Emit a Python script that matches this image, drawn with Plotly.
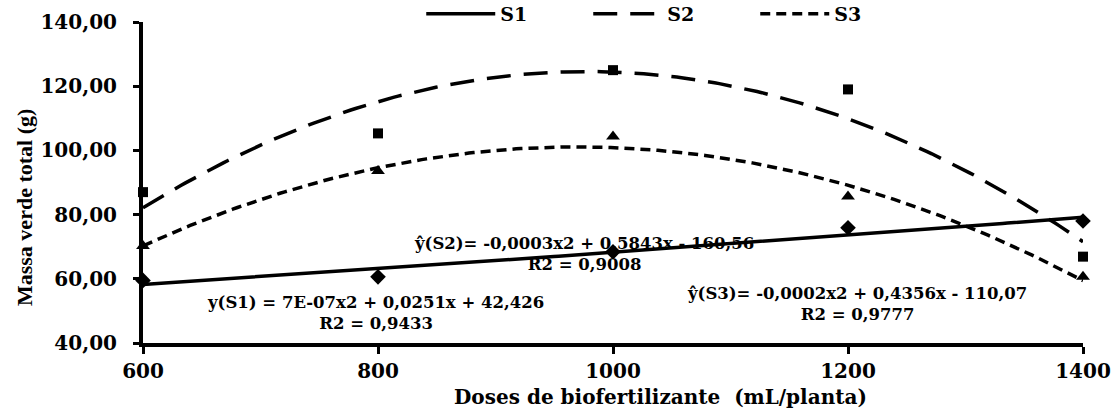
import numpy as np
import plotly.graph_objects as go

doses = [600, 800, 1000, 1200, 1400]
s1 = [59.5, 60.6, 68.4, 75.9, 78.0]
s2 = [87.0, 105.3, 125.0, 119.0, 66.9]
s3 = [70.2, 93.6, 104.3, 85.6, 60.6]

x_ticks = [600, 800, 1000, 1200, 1400]
x_ticklabels = ["600", "800", "1000", "1200", "1400"]
y_ticks = [40, 60, 80, 100, 120, 140]
y_ticklabels = ["40,00", "60,00", "80,00", "100,00", "120,00", "140,00"]

eq_texts = [
    "y(S1) = 7E-07x2 + 0,0251x + 42,426<br>R2 = 0,9433",
    "ŷ(S2)= -0,0003x2 + 0,5843x - 160,56<br>R2 = 0,9008",
    "ŷ(S3)= -0,0002x2 + 0,4356x - 110,07<br>R2 = 0,9777",
]
eq_pos = [(798, 49.3), (975, 67.7), (1208, 52.0)]

SERIF = "DejaVu Serif"
TIMES = "Liberation Serif"

fig = go.Figure()
xs = np.linspace(min(doses), max(doses), 200)
series = [("S1", s1, "solid", "diamond", 12),
          ("S2", s2, "24px,13px", "square", 10),
          ("S3", s3, "10px,6px", "triangle-up", 12)]
for name, ys, dash, sym, msz in series:
    coef = np.polyfit(doses, ys, 2)
    fig.add_trace(go.Scatter(x=xs, y=np.polyval(coef, xs), mode="lines",
                             name="<b>" + name + "</b>",
                             line=dict(color="black", width=3.5, dash=dash)))
for name, ys, dash, sym, msz in series:
    fig.add_trace(go.Scatter(x=doses, y=ys, mode="markers", showlegend=False,
                             cliponaxis=False,
                             marker=dict(symbol=sym, size=msz, color="black")))

for txt, (ex, ey) in zip(eq_texts, eq_pos):
    fig.add_annotation(x=ex, y=ey, xref="x", yref="y", text="<b>" + txt + "</b>",
                       showarrow=False, align="center",
                       font=dict(family=SERIF, size=16.5, color="black"))

fig.add_annotation(x=0.55, y=-0.168, xref="paper", yref="paper",
                   text="<b>Doses de biofertilizante  (mL/planta)</b>",
                   showarrow=False, xanchor="center", yanchor="middle",
                   font=dict(family=SERIF, size=20, color="black"))
fig.add_annotation(x=-0.1255, y=0.4206, xref="paper", yref="paper",
                   text="<b>Massa verde total (g)</b>", textangle=-90,
                   showarrow=False, xanchor="center", yanchor="middle",
                   font=dict(family=TIMES, size=22, color="black"))

fig.update_layout(
    width=1111, height=412,
    margin=dict(l=143, r=28, t=22, b=69, autoexpand=False),
    paper_bgcolor="white", plot_bgcolor="white",
    showlegend=True,
    legend=dict(orientation="h", x=0.296, y=1.025, xanchor="left", yanchor="middle",
                font=dict(family=SERIF, size=19, color="black"),
                entrywidth=83, itemwidth=69, bgcolor="rgba(0,0,0,0)"),
    xaxis=dict(range=[600, 1400], tickvals=x_ticks, ticktext=x_ticklabels,
               showgrid=False, zeroline=False, showline=True, linecolor="black",
               linewidth=4, ticks="outside", ticklen=7, tickwidth=3, tickcolor="black",
               tickfont=dict(family=SERIF, size=20, color="black", weight="bold")),
    yaxis=dict(range=[40, 140], tickvals=y_ticks, ticktext=y_ticklabels,
               showgrid=False, zeroline=False, showline=True, linecolor="black",
               linewidth=4, ticks="outside", ticklen=6, tickwidth=3, tickcolor="black",
               ticklabelstandoff=12,
               tickfont=dict(family=SERIF, size=20, color="black", weight="bold")),
)

fig.write_html("out.html")
